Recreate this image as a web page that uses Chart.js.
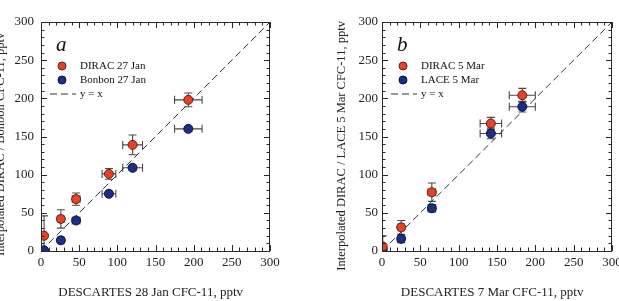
<!DOCTYPE html>
<html>
<head>
<meta charset="utf-8">
<script src="https://cdn.jsdelivr.net/npm/chart.js@4.4.0/dist/chart.umd.min.js"></script>
<style>
html, body { margin: 0; padding: 0; background: #fff; }
body { width: 619px; height: 301px; overflow: hidden; position: relative; }
.panel { position: absolute; top: 0; height: 301px; }
#panelA { left: -7px; width: 317px; }
#panelB { left: 334px; width: 318px; }
</style>
</head>
<body>
<div class="panel" id="panelA"><canvas id="chartA"></canvas></div>
<div class="panel" id="panelB"><canvas id="chartB"></canvas></div>
<script>
// ---------------- DATA: panel a (DESCARTES 28 Jan) ----------------
const descartesJan    = [4, 26, 46, 89, 120, 193];
const descartesJanErr = [3, 4, 5, 9, 13, 18];
const diracJan        = [20, 42, 68, 101, 139, 198];
const diracJanErr     = [26, 12, 8, 7, 13, 9];
const bonbonJan       = [1, 14, 40, 75, 109, 160];
const bonbonJanErr    = [2, 3, 3, 3, 3, 3];

// ---------------- DATA: panel b (DESCARTES 7 Mar) ----------------
const descartesMar    = [1, 25, 65, 142, 183];
const descartesMarErr = [2, 4, 5, 14, 17];
const diracMar        = [6, 31, 77, 167, 204];
const diracMarErr     = [14, 9, 12, 8, 9];
const laceMar         = [2, 16, 56, 154, 189];
const laceMarErr      = [3, 5, 5, 7, 7];

// ---------------- AXES ----------------
const axisTicks = [0, 50, 100, 150, 200, 250, 300];
const minorStep = 10;
const oneToOne = [0, 300];

const FONT = "'Liberation Serif', 'DejaVu Serif', serif";
const RED = "#e4432a", RED_EDGE = "#6e1a0e";
const BLUE = "#1e2d88", BLUE_EDGE = "#0b1240";

const toPoints = (xs, xe, ys, ye) => xs.map((x, i) => ({ x, y: ys[i], xErr: xe[i], yErr: ye[i] }));

// ---------------- PLUGINS ----------------
const errorBars = {
  id: "errorBars",
  beforeDatasetsDraw(chart) {
    const { ctx, chartArea: a, scales: { x, y } } = chart;
    ctx.save();
    ctx.beginPath();
    ctx.rect(a.left, a.top, a.right - a.left, a.bottom - a.top);
    ctx.clip();
    ctx.strokeStyle = "#4a4a4a";
    ctx.lineWidth = 1.1;
    const cap = 4;
    chart.data.datasets.forEach(ds => {
      if (!ds.errorBars) return;
      ds.data.forEach(p => {
        const px = x.getPixelForValue(p.x), py = y.getPixelForValue(p.y);
        ctx.beginPath();
        if (p.xErr) {
          const l = x.getPixelForValue(p.x - p.xErr), r = x.getPixelForValue(p.x + p.xErr);
          ctx.moveTo(l, py); ctx.lineTo(r, py);
          ctx.moveTo(l, py - cap); ctx.lineTo(l, py + cap);
          ctx.moveTo(r, py - cap); ctx.lineTo(r, py + cap);
        }
        if (p.yErr) {
          const t = y.getPixelForValue(p.y + p.yErr), b = y.getPixelForValue(p.y - p.yErr);
          ctx.moveTo(px, t); ctx.lineTo(px, b);
          ctx.moveTo(px - cap, t); ctx.lineTo(px + cap, t);
          ctx.moveTo(px - cap, b); ctx.lineTo(px + cap, b);
        }
        ctx.stroke();
      });
    });
    ctx.restore();
  }
};

const frame = {
  id: "frame",
  afterDraw(chart) {
    const { ctx, chartArea: a, scales: { x, y } } = chart;
    ctx.save();
    ctx.strokeStyle = "#2a2a2a";
    ctx.lineWidth = 1;
    ctx.strokeRect(a.left + 0.5, a.top + 0.5, a.right - a.left - 1, a.bottom - a.top);
    ctx.beginPath();
    const lo = axisTicks[0], hi = axisTicks[axisTicks.length - 1], major = axisTicks[1] - axisTicks[0];
    for (let v = lo; v <= hi; v += minorStep) {
      const len = v % major === 0 ? 6 : 3.5;
      const px = Math.round(x.getPixelForValue(v)) + 0.5;
      const py = Math.round(y.getPixelForValue(v)) + 0.5;
      ctx.moveTo(px, a.bottom); ctx.lineTo(px, a.bottom - len);
      ctx.moveTo(px, a.top); ctx.lineTo(px, a.top + len);
      ctx.moveTo(a.left, py); ctx.lineTo(a.left + len, py);
      ctx.moveTo(a.right, py); ctx.lineTo(a.right - len, py);
    }
    ctx.stroke();
    ctx.restore();
  }
};

const panelKey = {
  id: "panelKey",
  afterDraw(chart, args, opts) {
    const { ctx, chartArea: a } = chart;
    ctx.save();
    ctx.fillStyle = "#111";
    ctx.textBaseline = "middle";
    ctx.font = `italic 21px ${FONT}`;
    ctx.fillText(opts.letter, a.left + 15, a.top + 23);
    ctx.font = `11px ${FONT}`;
    let yy = a.top + 44;
    chart.data.datasets.forEach(ds => {
      if (ds.showLine) {
        ctx.strokeStyle = ds.borderColor;
        ctx.lineWidth = 1;
        ctx.setLineDash(ds.borderDash);
        ctx.beginPath();
        ctx.moveTo(a.left + 9, yy); ctx.lineTo(a.left + 35, yy);
        ctx.stroke();
        ctx.setLineDash([]);
      } else {
        ctx.beginPath();
        ctx.arc(a.left + 21, yy, 4, 0, Math.PI * 2);
        ctx.fillStyle = ds.pointBackgroundColor;
        ctx.fill();
        ctx.strokeStyle = ds.pointBorderColor;
        ctx.stroke();
      }
      ctx.fillStyle = "#111";
      ctx.fillText(ds.label, a.left + 39, yy);
      yy += 14;
    });
    ctx.restore();
  }
};

// ---------------- CHART BUILDER ----------------
function scatterSet(label, data, fill, edge) {
  return {
    label, data, errorBars: true, showLine: false,
    pointRadius: 4.5, pointHoverRadius: 4.5, pointBorderWidth: 1,
    pointBackgroundColor: fill, pointBorderColor: edge,
    backgroundColor: fill, borderColor: edge
  };
}

function buildChart(id, cfg) {
  const tickFont = { family: FONT, size: 13 };
  const axisBase = {
    type: "linear",
    min: axisTicks[0],
    max: axisTicks[axisTicks.length - 1],
    grid: { display: false, drawTicks: false },
    border: { display: false }
  };
  new Chart(document.getElementById(id), {
    type: "scatter",
    data: {
      datasets: [
        scatterSet(cfg.labels[0], toPoints(cfg.x, cfg.xErr, cfg.s1, cfg.s1Err), RED, RED_EDGE),
        scatterSet(cfg.labels[1], toPoints(cfg.x, cfg.xErr, cfg.s2, cfg.s2Err), BLUE, BLUE_EDGE),
        {
          label: "y = x",
          data: oneToOne.map(v => ({ x: v, y: v })),
          showLine: true, pointRadius: 0,
          borderColor: "#333", borderWidth: 1, borderDash: [7, 4]
        }
      ]
    },
    options: {
      responsive: true,
      maintainAspectRatio: false,
      animation: false,
      layout: { padding: { left: 0, top: 22, right: 40, bottom: 0 } },
      plugins: {
        legend: { display: false },
        tooltip: { enabled: false },
        panelKey: { letter: cfg.letter }
      },
      scales: {
        x: {
          ...axisBase,
          ticks: { stepSize: axisTicks[1] - axisTicks[0], padding: 4, color: "#222", font: tickFont, maxRotation: 0 },
          title: { display: true, text: cfg.xTitle, color: "#222", font: tickFont, padding: { top: 0, bottom: 1 } },
          afterFit: s => { s.height = 50; }
        },
        y: {
          ...axisBase,
          ticks: { stepSize: axisTicks[1] - axisTicks[0], padding: cfg.yPad, color: "#222", font: tickFont },
          title: { display: true, text: cfg.yTitle, color: "#222", font: { family: FONT, size: 12.5 }, padding: 0 },
          afterFit: s => { s.width = 48; }
        }
      }
    },
    plugins: [errorBars, frame, panelKey]
  });
}

buildChart("chartA", {
  letter: "a",
  labels: ["DIRAC 27 Jan", "Bonbon 27 Jan"],
  x: descartesJan, xErr: descartesJanErr,
  s1: diracJan, s1Err: diracJanErr,
  s2: bonbonJan, s2Err: bonbonJanErr,
  xTitle: "DESCARTES 28 Jan CFC-11, pptv   ",
  yTitle: "Interpolated DIRAC / Bonbon CFC-11, pptv     ",
  yPad: 7
});

buildChart("chartB", {
  letter: "b",
  labels: ["DIRAC 5 Mar", "LACE 5 Mar"],
  x: descartesMar, xErr: descartesMarErr,
  s1: diracMar, s1Err: diracMarErr,
  s2: laceMar, s2Err: laceMarErr,
  xTitle: "DESCARTES 7 Mar CFC-11, pptv   ",
  yTitle: "Interpolated DIRAC / LACE 5 Mar CFC-11, pptv      ",
  yPad: 4
});
</script>
</body>
</html>
